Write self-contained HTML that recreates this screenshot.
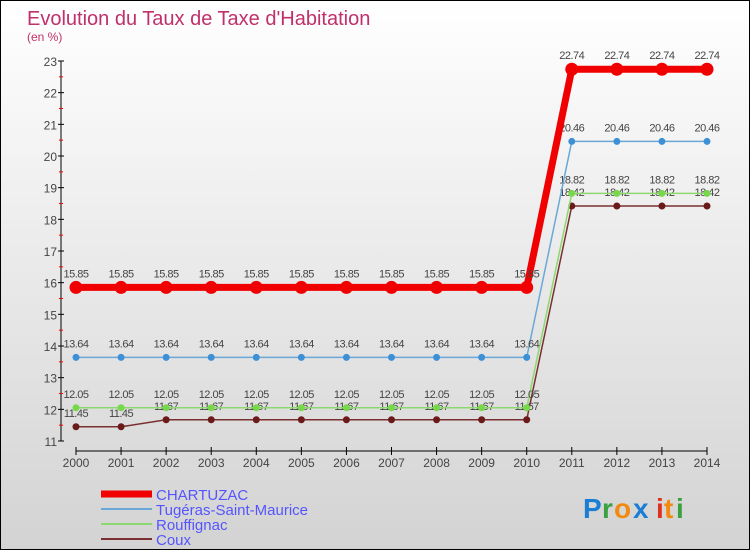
<!DOCTYPE html>
<html><head><meta charset="utf-8"><style>
body{margin:0;}
#wrap{width:750px;height:550px;position:relative;box-sizing:border-box;border:1px solid #000;background:linear-gradient(#fff,#d3d3d3);font-family:"Liberation Sans",sans-serif;overflow:hidden}
svg text{font-family:"Liberation Sans",sans-serif}
</style></head><body>
<div id="wrap">
<svg id="svg" width="750" height="550">
<text x="26" y="24" font-size="20" fill="#c0306a">Evolution du Taux de Taxe d'Habitation</text>
<text x="26" y="40" font-size="12" fill="#c0306a">(en %)</text>
<g id="axes"></g><g id="series"></g><g id="legend"></g>
<g font-size="28" font-weight="bold">
<text x="582" y="517" fill="#1a7fd4">P</text><text x="601" y="517" fill="#3aa040">r</text><text x="613" y="517" fill="#f28a10">o</text><text x="632" y="517" fill="#1a7fd4">x</text><text x="655" y="517" fill="#e03020">i</text><text x="663" y="517" fill="#f28a10">t</text><text x="675" y="517" fill="#3aa040">i</text>
</g>
</svg></div>
<script>
const years=[2000,2001,2002,2003,2004,2005,2006,2007,2008,2009,2010,2011,2012,2013,2014];
const chartuzac=[15.85,15.85,15.85,15.85,15.85,15.85,15.85,15.85,15.85,15.85,15.85,22.74,22.74,22.74,22.74];
const tugeras=[13.64,13.64,13.64,13.64,13.64,13.64,13.64,13.64,13.64,13.64,13.64,20.46,20.46,20.46,20.46];
const rouffignac=[12.05,12.05,12.05,12.05,12.05,12.05,12.05,12.05,12.05,12.05,12.05,18.82,18.82,18.82,18.82];
const coux=[11.45,11.45,11.67,11.67,11.67,11.67,11.67,11.67,11.67,11.67,11.67,18.42,18.42,18.42,18.42];
const yTicks=[11,12,13,14,15,16,17,18,19,20,21,22,23];
const NS="http://www.w3.org/2000/svg";
const x=i=>75+i*(706-75)/(years.length-1);
const y=v=>440-(v-11)*(380/12);
function mk(t,a,p){const e=document.createElementNS(NS,t);for(const k in a)e.setAttribute(k,a[k]);p.appendChild(e);return e;}
const ax=document.getElementById('axes');
const yl=mk('line',{x1:60,y1:60,x2:60,y2:440,stroke:'#000'},ax);


yTicks.forEach(v=>{
 mk('line',{x1:57,x2:63,y1:y(v),y2:y(v),stroke:'#000'},ax);
 if(v<23) mk('line',{x1:58,x2:62,y1:y(v+0.5),y2:y(v+0.5),stroke:'#f00'},ax);
 const t=mk('text',{x:56,y:y(v)+5,'text-anchor':'end','font-size':12,fill:'#444'},ax);t.textContent=v;
 
 
});
const xl=mk('line',{x1:75,y1:450,x2:706,y2:450,stroke:'#000'},ax);


years.forEach((yr,i)=>{
 mk('line',{x1:x(i),x2:x(i),y1:446,y2:454,stroke:'#000'},ax);
 const t=mk('text',{x:x(i),y:466,'text-anchor':'middle','font-size':12,fill:'#444'},ax);t.textContent=yr;
 
 
});
const S=document.getElementById('series');
const series=[
 {n:'Coux',d:coux,c:'#6b1a1a',w:1.5,r:3.5,lc:'#7a3030'},
 {n:'Rouffignac',d:rouffignac,c:'#77d94a',w:1.5,r:3.5,lc:'#8ed870'},
 {n:'Tugéras-Saint-Maurice',d:tugeras,c:'#3d8fd6',w:1.5,r:3.5,lc:'#6aa8d8'},
 {n:'CHARTUZAC',d:chartuzac,c:'#f00000',w:7,r:6.5,lc:'#f00000'}
];
series.forEach(s=>{
 const g=mk('g',{},S);
 
 
 mk('polyline',{points:s.d.map((v,i)=>x(i)+','+y(v)).join(' '),fill:'none',stroke:s.lc,'stroke-width':s.w},g);
 s.d.forEach((v,i)=>{
  const c=mk('circle',{cx:x(i),cy:y(v),r:s.r,fill:s.c},g);
  
  
  const t=mk('text',{x:x(i),y:y(v)-10,'text-anchor':'middle','font-size':11,fill:'#444','letter-spacing':'-0.5'},g);t.textContent=v;
  
  
 });
});
const L=document.getElementById('legend');
[...series].reverse().forEach((s,k)=>{
 const yy=493+k*15;
 const g=mk('g',{},L);
 
 
 mk('line',{x1:100,x2:151,y1:yy,y2:yy,stroke:s.lc,'stroke-width':s.n=='CHARTUZAC'?7:2},g);
 const t=mk('text',{x:155,y:yy+6,'font-size':15,fill:'#5555ff'},g);t.textContent=s.n;
});
</script></body></html>
